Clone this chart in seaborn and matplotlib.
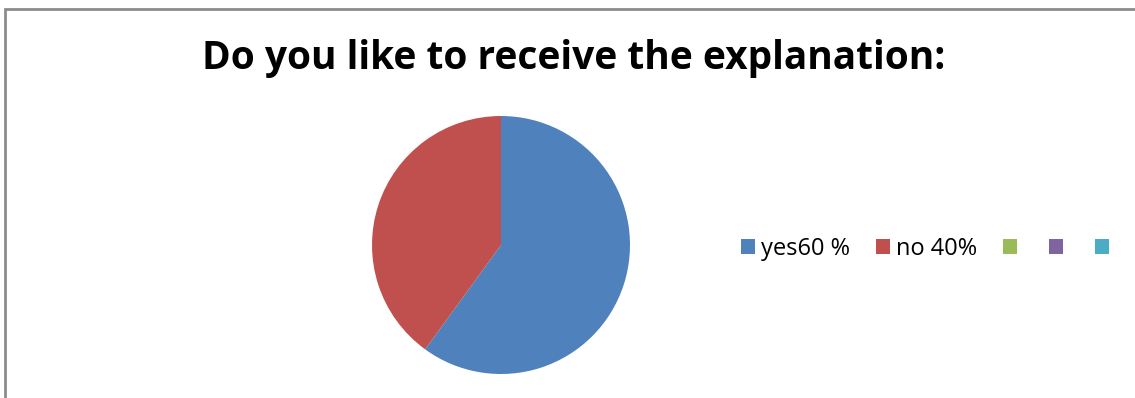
import matplotlib
matplotlib.use("Agg")
import matplotlib.pyplot as plt
import seaborn as sns
from matplotlib.patches import Rectangle

sns.set_theme(style="white")
plt.rcParams['font.family'] = ['Open Sans', 'DejaVu Sans']

labels = ["yes60 %", "no 40%", "", "", ""]
values = [60, 40, 0, 0, 0]
colors = ["#4F81BD", "#C0504D", "#9BBB59", "#8064A2", "#4BACC6"]
title = "Do you like to receive the explanation:"

W, H = 1135, 398
fig = plt.figure(figsize=(W / 100, H / 100), dpi=100)
fig.patch.set_facecolor("white")

# outer chart border (left and top visible)
fig.add_artist(Rectangle((5 / W, -0.1), 1.2, (H - 9) / H + 0.1, transform=fig.transFigure,
                         fill=False, edgecolor="#8c8c8c", linewidth=2))

cx, cy, r = 501, 245, 129
ax = fig.add_axes([(cx - r) / W, (H - cy - r) / H, 2 * r / W, 2 * r / H])
wedges, _ = ax.pie(values, colors=colors, startangle=90, counterclock=False,
                   wedgeprops=dict(linewidth=0))
ax.set_xlim(-1, 1)
ax.set_ylim(-1, 1)
ax.set_aspect("equal")
ax.axis("off")

fig.text(574 / W, 1 - 58 / H, title, ha="center", va="center",
         fontsize=28, fontweight="bold", color="black")

leg = fig.legend(wedges, labels, loc="center left", bbox_to_anchor=(741 / W, 1 - 249 / H),
                 ncol=5, frameon=False, fontsize=17, handlelength=0.6, handleheight=0.6,
                 handletextpad=0.25, columnspacing=1.1, borderaxespad=0, borderpad=0,
                 labelcolor="black")

fig.savefig("out.png", dpi=100, facecolor="white")
